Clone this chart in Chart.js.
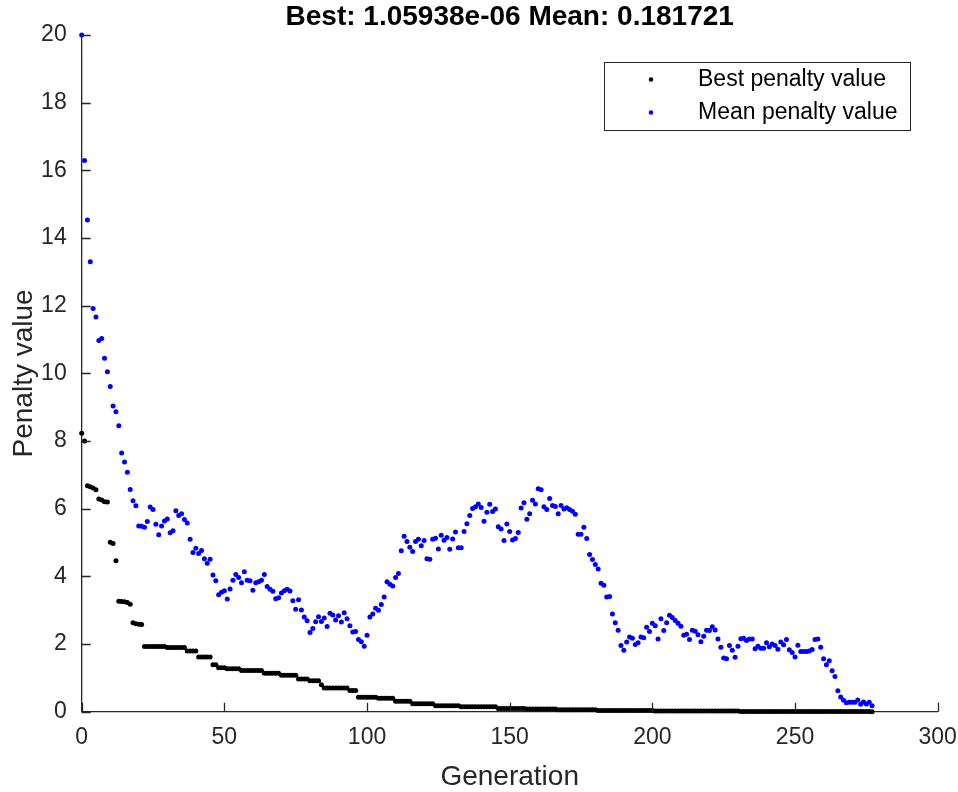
<!DOCTYPE html>
<html>
<head>
<meta charset="utf-8">
<script src="https://cdn.jsdelivr.net/npm/chart.js@4"></script>
<style>
  html, body { margin: 0; padding: 0; background: #fff; }
  #wrap { width: 958px; height: 792px; }
</style>
</head>
<body>
<div id="wrap"><canvas id="myChart" width="958" height="792"></canvas></div>
<script>
const chartTitle = 'Best: 1.05938e-06 Mean: 0.181721';
const xLabel = 'Generation';
const yLabel = 'Penalty value';
const seriesNames = ['Best penalty value', 'Mean penalty value'];
const seriesColors = ['#000000', '#0000ff'];
const xTicks = [0, 50, 100, 150, 200, 250, 300];
const yTicks = [0, 2, 4, 6, 8, 10, 12, 14, 16, 18, 20];

// one value per generation, starting at generation 0
const bestPenalty = [
  8.23, 8.00, 6.68, 6.65, 6.61, 6.56, 6.29, 6.26, 6.21, 6.20,
  5.01, 4.97, 4.46, 3.27, 3.26, 3.25, 3.23, 3.18, 2.63, 2.60,
  2.59, 2.58, 1.93, 1.93, 1.93, 1.93, 1.93, 1.93, 1.93, 1.93,
  1.90, 1.90, 1.90, 1.90, 1.90, 1.90, 1.90, 1.80, 1.80, 1.80,
  1.80, 1.62, 1.62, 1.62, 1.62, 1.62, 1.39, 1.39, 1.30, 1.30,
  1.30, 1.27, 1.27, 1.27, 1.27, 1.27, 1.22, 1.22, 1.22, 1.22,
  1.22, 1.22, 1.22, 1.22, 1.14, 1.14, 1.14, 1.14, 1.14, 1.14,
  1.08, 1.08, 1.08, 1.08, 1.08, 1.08, 0.97, 0.97, 0.97, 0.97,
  0.92, 0.92, 0.92, 0.92, 0.80, 0.70, 0.70, 0.70, 0.70, 0.70,
  0.70, 0.70, 0.70, 0.70, 0.63, 0.63, 0.63, 0.43, 0.43, 0.43,
  0.43, 0.43, 0.43, 0.43, 0.40, 0.40, 0.40, 0.40, 0.40, 0.40,
  0.31, 0.31, 0.31, 0.31, 0.31, 0.31, 0.24, 0.24, 0.24, 0.24,
  0.24, 0.24, 0.24, 0.24, 0.18, 0.18, 0.18, 0.18, 0.18, 0.18,
  0.18, 0.18, 0.18, 0.15, 0.15, 0.15, 0.15, 0.15, 0.15, 0.15,
  0.15, 0.15, 0.15, 0.15, 0.15, 0.15, 0.10, 0.10, 0.10, 0.10,
  0.10, 0.10, 0.10, 0.10, 0.10, 0.10, 0.08, 0.08, 0.08, 0.08,
  0.08, 0.08, 0.08, 0.08, 0.08, 0.08, 0.08, 0.06, 0.06, 0.06,
  0.06, 0.06, 0.06, 0.06, 0.06, 0.06, 0.06, 0.06, 0.06, 0.06,
  0.06, 0.04, 0.04, 0.04, 0.04, 0.04, 0.04, 0.04, 0.04, 0.04,
  0.04, 0.04, 0.04, 0.04, 0.04, 0.04, 0.04, 0.04, 0.04, 0.04,
  0.04, 0.02, 0.02, 0.02, 0.02, 0.02, 0.02, 0.02, 0.02, 0.02,
  0.02, 0.02, 0.02, 0.02, 0.02, 0.02, 0.02, 0.02, 0.02, 0.02,
  0.02, 0.02, 0.02, 0.02, 0.02, 0.02, 0.02, 0.02, 0.02, 0.02,
  0.02, 0.01, 0.01, 0.01, 0.01, 0.01, 0.01, 0.01, 0.01, 0.01,
  0.01, 0.01, 0.01, 0.01, 0.01, 0.01, 0.01, 0.01, 0.01, 0.01,
  0.01, 0.01, 0.01, 0.01, 0.01, 0.01, 0.01, 0.01, 0.01, 0.01,
  0.01, 0.01, 0.01, 0.01, 0.01, 0.01, 0.01, 0.01, 0.01, 0.01,
  0.01, 0.01, 0.01, 0.01, 0.01, 0.01, 0.01, 0.00
];

const meanPenalty = [
  20.0, 16.29, 14.53, 13.30, 11.92, 11.67, 10.97, 11.03, 10.45, 10.05,
  9.61, 9.04, 8.87, 8.45, 7.65, 7.38, 7.08, 6.57, 6.24, 6.09,
  5.49, 5.48, 5.45, 5.62, 6.05, 5.98, 5.54, 5.23, 5.49, 5.64,
  5.70, 5.29, 5.35, 5.94, 5.80, 5.85, 5.68, 5.58, 5.10, 4.71,
  4.83, 4.68, 4.77, 4.52, 4.39, 4.51, 4.04, 3.87, 3.46, 3.53,
  3.58, 3.33, 3.63, 3.89, 4.06, 3.97, 3.81, 4.14, 3.89, 3.87,
  3.59, 3.81, 3.84, 3.89, 4.06, 3.70, 3.62, 3.56, 3.34, 3.37,
  3.51, 3.58, 3.62, 3.57, 3.28, 3.03, 3.31, 3.01, 2.80, 2.69,
  2.34, 2.46, 2.66, 2.81, 2.67, 2.77, 2.52, 2.91, 2.86, 2.71,
  2.84, 2.65, 2.93, 2.75, 2.54, 2.36, 2.37, 2.14, 2.07, 1.94,
  2.26, 2.80, 2.89, 3.06, 3.00, 3.17, 3.39, 3.84, 3.77, 3.72,
  3.97, 4.09, 4.76, 5.19, 5.03, 4.86, 4.74, 5.03, 5.10, 4.91,
  5.06, 4.52, 4.51, 5.10, 5.13, 4.81, 5.22, 5.07, 5.15, 4.80,
  5.11, 5.31, 4.85, 4.85, 5.33, 5.56, 5.80, 6.01, 6.06, 6.14,
  6.04, 5.63, 5.90, 6.13, 5.92, 5.99, 5.47, 5.40, 5.06, 5.55,
  5.33, 5.08, 5.12, 5.30, 6.02, 6.18, 5.69, 5.85, 6.25, 6.14,
  6.59, 6.56, 6.06, 5.98, 6.30, 6.10, 6.07, 5.85, 6.10, 5.99,
  6.03, 5.98, 5.93, 5.84, 5.25, 5.25, 5.45, 5.12, 4.65, 4.50,
  4.35, 4.22, 3.80, 3.74, 3.39, 3.41, 2.89, 2.63, 2.41, 1.96,
  1.82, 2.06, 2.21, 2.17, 1.99, 2.04, 2.21, 2.19, 2.50, 2.37,
  2.62, 2.54, 2.15, 2.75, 2.40, 2.63, 2.85, 2.79, 2.70, 2.62,
  2.53, 2.26, 2.29, 2.14, 2.41, 2.38, 2.28, 2.07, 2.23, 2.41,
  2.40, 2.51, 2.42, 2.15, 1.91, 1.59, 1.57, 1.96, 1.82, 1.61,
  1.94, 2.16, 2.17, 2.11, 2.15, 2.15, 1.86, 1.94, 1.88, 1.88,
  2.04, 1.92, 2.00, 1.96, 1.85, 2.06, 1.98, 2.14, 1.83, 1.75,
  1.62, 1.97, 1.78, 1.78, 1.78, 1.80, 1.84, 2.14, 2.15, 1.91,
  1.57, 1.39, 1.51, 1.21, 1.04, 0.62, 0.44, 0.34, 0.27, 0.28,
  0.28, 0.28, 0.35, 0.22, 0.29, 0.23, 0.28, 0.18
];

const FONT = "'Liberation Sans', Arial, sans-serif";
const AXIS_COLOR = '#262626';

// little dot image so the legend marker sits far from its text, like matlab
function dotImage(color) {
  const c = document.createElement('canvas');
  c.width = 8; c.height = 8;
  const g = c.getContext('2d');
  g.fillStyle = color;
  g.beginPath();
  g.arc(4, 4, 2.3, 0, Math.PI * 2);
  g.fill();
  return c;
}

const axesDecor = {
  id: 'axesDecor',
  afterLayout(chart) {
    // park the legend in the top right corner of the plot
    const lg = chart.legend;
    lg.left = 605.5;
    lg.top = 58;
    lg.right = lg.left + 310;
    lg.bottom = lg.top + 200;
  },
  afterDatasetsDraw(chart) {
    const {ctx, chartArea: a, scales: {x, y}} = chart;
    ctx.save();
    ctx.strokeStyle = AXIS_COLOR;
    ctx.lineWidth = 1.3;
    ctx.beginPath();
    x.ticks.forEach(t => {
      const px = Math.round(x.getPixelForValue(t.value)) + 0.5;
      ctx.moveTo(px, a.bottom);
      ctx.lineTo(px, a.bottom - 9);
    });
    y.ticks.forEach(t => {
      const py = Math.round(y.getPixelForValue(t.value)) + 0.5;
      ctx.moveTo(a.left, py);
      ctx.lineTo(a.left + 9, py);
    });
    ctx.stroke();
    // legend frame
    const lg = chart.legend;
    ctx.lineWidth = 1;
    ctx.strokeRect(lg.left - 1, lg.top + 4.5, 306, 68);
    ctx.restore();
  }
};

const ctx = document.getElementById('myChart');

new Chart(ctx, {
  type: 'scatter',
  data: {
    datasets: [{
      label: seriesNames[0],
      data: bestPenalty.map((v, i) => ({x: i, y: v})),
      backgroundColor: seriesColors[0],
      borderColor: seriesColors[0],
      pointRadius: 2.5,
      pointBorderWidth: 0,
      clip: false
    }, {
      label: seriesNames[1],
      data: meanPenalty.map((v, i) => ({x: i, y: v})),
      backgroundColor: seriesColors[1],
      borderColor: seriesColors[1],
      pointRadius: 2.5,
      pointBorderWidth: 0,
      clip: false
    }]
  },
  options: {
    responsive: false,
    animation: false,
    devicePixelRatio: 1,
    layout: { padding: { left: 0, right: 20.3, top: 0, bottom: 0 } },
    plugins: {
      title: {
        display: true,
        text: chartTitle,
        fullSize: false,
        color: '#000',
        font: { family: FONT, size: 28, weight: 'bold', lineHeight: 1.15 },
        padding: { top: 1.5, bottom: 1.3 }
      },
      legend: {
        position: 'chartArea',
        align: 'start',
        labels: {
          usePointStyle: true,
          pointStyleWidth: 71,
          padding: 10,
          color: '#000',
          font: { family: FONT, size: 23 },
          generateLabels(chart) {
            const items = Chart.defaults.plugins.legend.labels.generateLabels(chart);
            items.forEach((it, i) => { it.pointStyle = dotImage(seriesColors[i]); });
            return items;
          }
        }
      },
      tooltip: { enabled: false }
    },
    scales: {
      x: {
        type: 'linear',
        position: 'bottom',
        min: xTicks[0],
        max: xTicks[xTicks.length - 1],
        afterBuildTicks: s => { s.ticks = xTicks.map(v => ({value: v})); },
        afterFit: s => { s.height = 80.2; s.paddingLeft = 0; s.paddingRight = 0; },
        grid: { display: false, drawTicks: false },
        border: { display: true, color: AXIS_COLOR, width: 1.3 },
        ticks: {
          color: AXIS_COLOR,
          padding: 12.4,
          maxRotation: 0,
          autoSkip: false,
          font: { family: FONT, size: 23 }
        },
        title: {
          display: true,
          text: xLabel,
          color: AXIS_COLOR,
          font: { family: FONT, size: 28, lineHeight: 1 },
          padding: { top: 0, bottom: 1 }
        }
      },
      y: {
        type: 'linear',
        min: yTicks[0],
        max: yTicks[yTicks.length - 1],
        afterBuildTicks: s => { s.ticks = yTicks.map(v => ({value: v})); },
        afterFit: s => { s.width = 81.7; s.paddingTop = 0; s.paddingBottom = 0; },
        grid: { display: false, drawTicks: false },
        border: { display: true, color: AXIS_COLOR, width: 1.3 },
        ticks: {
          color: AXIS_COLOR,
          padding: 15,
          font: { family: FONT, size: 23 }
        },
        title: {
          display: true,
          text: yLabel,
          color: AXIS_COLOR,
          font: { family: FONT, size: 28, lineHeight: 1 },
          padding: { top: 10, bottom: 0 }
        }
      }
    }
  },
  plugins: [axesDecor]
});
</script>
</body>
</html>
